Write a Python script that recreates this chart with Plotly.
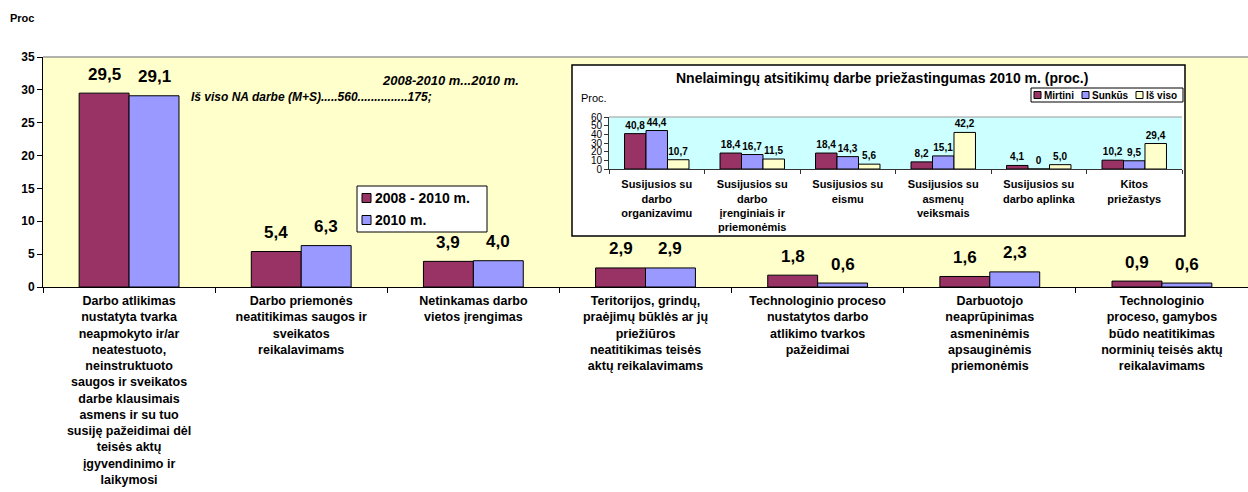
import plotly.graph_objects as go

# ---------------- data ----------------
categories = [
    "Darbo atlikimas<br>nustatyta tvarka<br>neapmokyto ir/ar<br>neatestuoto,<br>neinstruktuoto<br>saugos ir sveikatos<br>darbe klausimais<br>asmens ir su tuo<br>susiję pažeidimai dėl<br>teisės aktų<br>įgyvendinimo ir<br>laikymosi",
    "Darbo priemonės<br>neatitikimas saugos ir<br>sveikatos<br>reikalavimams",
    "Netinkamas darbo<br>vietos įrengimas",
    "Teritorijos, grindų,<br>praėjimų būklės ar jų<br>priežiūros<br>neatitikimas teisės<br>aktų reikalavimams",
    "Technologinio proceso<br>nustatytos darbo<br>atlikimo tvarkos<br>pažeidimai",
    "Darbuotojo<br>neaprūpinimas<br>asmeninėmis<br>apsauginėmis<br>priemonėmis",
    "Technologinio<br>proceso, gamybos<br>būdo neatitikimas<br>norminių teisės aktų<br>reikalavimams",
]
series_names = ["2008 - 2010 m.", "2010 m."]
values_2008_2010 = [29.5, 5.4, 3.9, 2.9, 1.8, 1.6, 0.9]
values_2010 = [29.1, 6.3, 4.0, 2.9, 0.6, 2.3, 0.6]

inset_categories = [
    "Susijusios su<br>darbo<br>organizavimu",
    "Susijusios su<br>darbo<br>įrenginiais ir<br>priemonėmis",
    "Susijusios su<br>eismu",
    "Susijusios su<br>asmenų<br>veiksmais",
    "Susijusios su<br>darbo aplinka",
    "Kitos<br>priežastys",
]
inset_series_names = ["Mirtini", "Sunkūs", "Iš viso"]
inset_mirtini = [40.8, 18.4, 18.4, 8.2, 4.1, 10.2]
inset_sunkus = [44.4, 16.7, 14.3, 15.1, 0, 9.5]
inset_is_viso = [10.7, 11.5, 5.6, 42.2, 5.0, 29.4]

y_ticks = [0, 5, 10, 15, 20, 25, 30, 35]
inset_y_ticks = [0, 10, 20, 30, 40, 50, 60]

# ---------------- style ----------------
MAROON = "#993366"
LAVENDER = "#9999FF"
CREAM = "#FFFFCC"
CYAN = "#CCFFFF"
FONT = "Liberation Sans, Arial, sans-serif"
main_colors = [MAROON, LAVENDER]
inset_colors = [MAROON, LAVENDER, CREAM]


def fmt(v):
    if v == 0:
        return "0"
    return f"{v:.1f}".replace(".", ",")


# geometry helpers (plot area: x 43..1248, y 57..287)
L, R, T, B = 43, 1248, 57, 287
def px(x):
    return (x - L) / (R - L)
def py(y):
    return (B - y) / (B - T)

BARGAP = 0.42
cat_px = (R - L) / len(categories)
bar_px = cat_px * (1 - BARGAP) / 2

fig = go.Figure()
annotations = []

# main chart
main_series = [values_2008_2010, values_2010]
for s, (name, vals) in enumerate(zip(series_names, main_series)):
    fig.add_trace(go.Bar(
        x=categories, y=vals, name=name,
        marker=dict(color=main_colors[s], line=dict(color="black", width=1)),
        xaxis="x", yaxis="y", showlegend=False,
    ))
    # value labels above the bars
    for c, v in zip(categories, vals):
        annotations.append(dict(
            text=f"<b>{fmt(v)}</b>", x=c, y=v, xref="x", yref="y",
            xshift=(s - 0.5) * bar_px, yshift=19,
            xanchor="center", yanchor="middle", showarrow=False,
            font=dict(size=17, family=FONT, color="black"),
        ))

# inset chart
inset_w = 0.225
for i, (name, vals) in enumerate(zip(inset_series_names,
                                     [inset_mirtini, inset_sunkus, inset_is_viso])):
    fig.add_trace(go.Bar(
        x=inset_categories, y=vals, name=name,
        width=inset_w, offset=-1.5 * inset_w + i * inset_w,
        marker=dict(color=inset_colors[i], line=dict(color="black", width=1)),
        text=[fmt(v) for v in vals], textposition="outside",
        textfont=dict(size=10, color="black", family=FONT, weight="bold"),
        cliponaxis=False, xaxis="x2", yaxis="y2", showlegend=False,
    ))

fig.update_layout(
    width=1248, height=492,
    margin=dict(l=L, r=1248 - R, t=T, b=492 - B, pad=0),
    paper_bgcolor="white",
    plot_bgcolor=CYAN,
    barmode="group", bargap=BARGAP, bargroupgap=0,
    font=dict(family=FONT, color="black"),
    showlegend=False,
    xaxis=dict(
        domain=[0, 1], anchor="y", type="category",
        showline=True, linecolor="black", linewidth=1,
        ticks="outside", tickson="boundaries", ticklen=5, tickcolor="black",
        tickfont=dict(size=12.5, family=FONT, weight="bold"),
        ticklabelstandoff=2,
        showgrid=False, zeroline=False, automargin=False,
    ),
    yaxis=dict(
        domain=[0, 1], anchor="x", range=[0, 35],
        tickvals=y_ticks,
        showline=True, linecolor="black", linewidth=1,
        ticks="outside", ticklen=5, tickcolor="black",
        tickfont=dict(size=12, family=FONT, weight="bold"),
        showgrid=False, zeroline=False, automargin=False,
    ),
    xaxis2=dict(
        domain=[px(609), px(1182)], anchor="y2", type="category",
        showline=True, linecolor="#333333", linewidth=1,
        ticks="outside", tickson="boundaries", ticklen=4, tickcolor="#333333",
        tickfont=dict(size=11, family=FONT, weight="bold"),
        ticklabelstandoff=5,
        showgrid=False, zeroline=False,
    ),
    yaxis2=dict(
        domain=[py(169), py(117)], anchor="x2", range=[0, 60],
        tickvals=inset_y_ticks,
        showline=True, linecolor="#333333", linewidth=1,
        ticks="outside", ticklen=4, tickcolor="#333333",
        tickfont=dict(size=10, family=FONT),
        showgrid=False, zeroline=False,
    ),
)

shapes = [
    # main plot area background
    dict(type="rect", xref="paper", yref="paper", x0=0, x1=1, y0=0, y1=1,
         fillcolor=CREAM, line=dict(width=0), layer="below"),
    # top border of main plot area
    dict(type="line", xref="paper", yref="paper", x0=0, x1=1, y0=1, y1=1,
         line=dict(color="#999999", width=1.5), layer="below"),
    # inset box
    dict(type="rect", xref="paper", yref="paper",
         x0=px(572), x1=px(1185), y0=py(236), y1=py(65),
         fillcolor="white", line=dict(color="black", width=1.5), layer="below"),
    # top border of inset plot area
    dict(type="line", xref="paper", yref="paper",
         x0=px(609), x1=px(1182), y0=py(117), y1=py(117),
         line=dict(color="#999999", width=1), layer="above"),
    # main legend box
    dict(type="rect", xref="paper", yref="paper",
         x0=px(357), x1=px(487), y0=py(232), y1=py(186),
         fillcolor="white", line=dict(color="black", width=1), layer="above"),
    # inset legend box
    dict(type="rect", xref="paper", yref="paper",
         x0=px(1031), x1=px(1183), y0=py(102), y1=py(88),
         fillcolor="white", line=dict(color="black", width=1), layer="above"),
]

annotations += [
    dict(text="<b>Proc</b>", xref="paper", yref="paper", x=px(8), y=py(18),
         xanchor="left", yanchor="middle", showarrow=False,
         font=dict(size=11, family=FONT)),
    dict(text="<b><i>2008-2010 m...2010 m.</i></b>", xref="paper", yref="paper",
         x=px(450), y=py(80), xanchor="center", yanchor="middle", showarrow=False,
         font=dict(size=13, family=FONT)),
    dict(text="<b><i>Iš viso NA darbe (M+S).....560...............175;</i></b>",
         xref="paper", yref="paper", x=px(189), y=py(97),
         xanchor="left", yanchor="middle", showarrow=False,
         font=dict(size=12, family=FONT)),
    dict(text="<b>Nnelaimingų atsitikimų darbe priežastingumas 2010 m. (proc.)</b>",
         xref="paper", yref="paper", x=px(882), y=py(78),
         xanchor="center", yanchor="middle", showarrow=False,
         font=dict(size=14, family=FONT)),
    dict(text="Proc.", xref="paper", yref="paper", x=px(579), y=py(98),
         xanchor="left", yanchor="middle", showarrow=False,
         font=dict(size=11, family=FONT)),
]

# main legend entries
for i, (name, yc) in enumerate(zip(series_names, [198, 220])):
    shapes.append(dict(type="rect", xref="paper", yref="paper",
                       x0=px(362), x1=px(371), y0=py(yc + 4.5), y1=py(yc - 4.5),
                       fillcolor=main_colors[i], line=dict(color="black", width=1),
                       layer="above"))
    annotations.append(dict(text=f"<b>{name}</b>", xref="paper", yref="paper",
                            x=px(373), y=py(yc), xanchor="left", yanchor="middle",
                            showarrow=False, font=dict(size=14, family=FONT)))

# inset legend entries
leg_x = [1034, 1082, 1136]
for i, name in enumerate(inset_series_names):
    x0 = leg_x[i]
    shapes.append(dict(type="rect", xref="paper", yref="paper",
                       x0=px(x0), x1=px(x0 + 7), y0=py(98.5), y1=py(91.5),
                       fillcolor=inset_colors[i], line=dict(color="black", width=1),
                       layer="above"))
    annotations.append(dict(text=f"<b>{name}</b>", xref="paper", yref="paper",
                            x=px(x0 + 8), y=py(95), xanchor="left", yanchor="middle",
                            showarrow=False, font=dict(size=10, family=FONT)))

fig.update_layout(shapes=shapes, annotations=annotations)

fig.write_html("out.html",
               config={"displayModeBar": False},
               post_script="document.body.style.margin='0';document.body.style.overflow='hidden';")
